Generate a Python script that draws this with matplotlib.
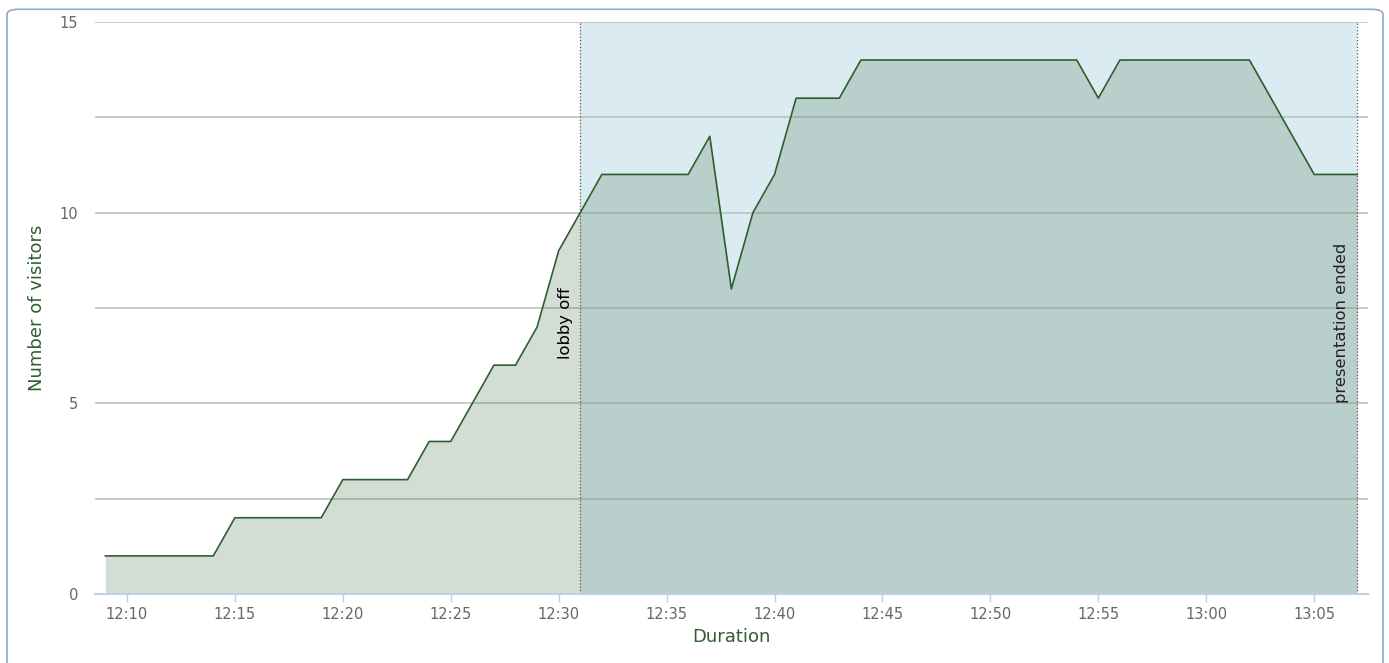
import numpy as np
import matplotlib.pyplot as plt
from matplotlib.patches import FancyBboxPatch
from matplotlib.ticker import FixedLocator, FuncFormatter

# visitor counts, one reading per minute
times = ['12:09', '12:10', '12:11', '12:12', '12:13', '12:14', '12:15', '12:16',
         '12:17', '12:18', '12:19', '12:20', '12:21', '12:22', '12:23', '12:24',
         '12:25', '12:26', '12:27', '12:28', '12:29', '12:30', '12:31', '12:32',
         '12:33', '12:34', '12:35', '12:36', '12:37', '12:38', '12:39', '12:40',
         '12:41', '12:42', '12:43', '12:44', '12:45', '12:46', '12:47', '12:48',
         '12:49', '12:50', '12:51', '12:52', '12:53', '12:54', '12:55', '12:56',
         '12:57', '12:58', '12:59', '13:00', '13:01', '13:02', '13:03', '13:04',
         '13:05', '13:06', '13:07']
visitors = [1, 1, 1, 1, 1, 1, 2, 2, 2, 2, 2, 3, 3, 3, 3, 4,
            4, 5, 6, 6, 7, 9, 10, 11, 11, 11, 11, 11, 12, 8, 10, 11,
            13, 13, 13, 14, 14, 14, 14, 14, 14, 14, 14, 14, 14, 14, 13, 14,
            14, 14, 14, 14, 14, 14, 13, 12, 11, 11, 11]

lobby_off = '12:31'
presentation_end = '13:07'
tick_times = ['12:10', '12:15', '12:20', '12:25', '12:30', '12:35', '12:40',
              '12:45', '12:50', '12:55', '13:00', '13:05']


def to_min(t):
    h, m = t.split(':')
    return (int(h) - 12) * 60 + int(m)


def to_label(v, pos=None):
    v = int(round(v))
    return '%d:%02d' % (12 + v // 60, v % 60)


x = np.array([to_min(t) for t in times])
y = np.array(visitors)

fig = plt.figure(figsize=(13.89, 6.63), dpi=100)
ax = fig.add_axes([0.0684, 0.104, 0.9166, 0.863])

# outer rounded frame
frame = FancyBboxPatch((7 / 1389, -0.05), 1376 / 1389, 1.036, transform=fig.transFigure,
                       boxstyle='round,pad=0,rounding_size=0.008', facecolor='none',
                       edgecolor='#8fa8c8', linewidth=1.2, clip_on=False)
fig.patches.append(frame)

x0, x1 = to_min(lobby_off), to_min(presentation_end)
ax.axvspan(x0, x1, color='#daecf2', zorder=0, linewidth=0)
ax.axvline(x0, color='#555555', linestyle=':', linewidth=0.9, zorder=4)
ax.axvline(x1, color='#555555', linestyle=':', linewidth=0.9, zorder=4)

ax.fill_between(x, 0, y, color='#537b57', alpha=0.25, linewidth=0, zorder=2)
ax.plot(x, y, color='#2d5e2d', linewidth=1.2, zorder=3)

ax.text(x0 - 0.35, 7.1, 'lobby off', rotation=90, ha='right', va='center',
        fontsize=11.8, color='black', zorder=5)
ax.text(x1 - 0.4, 7.1, 'presentation ended', rotation=90, ha='right', va='center',
        fontsize=11.8, color='#222222', zorder=5)

ax.set_xlim(8.52, 67.5)
ax.set_ylim(0, 15)
ax.xaxis.set_major_locator(FixedLocator([to_min(t) for t in tick_times]))
ax.xaxis.set_major_formatter(FuncFormatter(to_label))
ax.yaxis.set_major_locator(FixedLocator([0, 2.5, 5, 7.5, 10, 12.5, 15]))
ax.yaxis.set_major_formatter(FuncFormatter(lambda v, p: '%d' % v if v % 5 == 0 else ''))

ax.grid(axis='y', color='#c0c0c0', linewidth=1.2, zorder=1)
ax.set_axisbelow(True)
for s in ['top', 'right', 'left']:
    ax.spines[s].set_visible(False)
ax.spines['bottom'].set_color('#c0d0e0')
ax.spines['bottom'].set_linewidth(1.5)
ax.spines['bottom'].set_zorder(6)

ax.tick_params(axis='x', colors='#c0d0e0', length=6, width=1, labelcolor='#666666',
               labelsize=10.5, pad=3)
ax.tick_params(axis='y', length=0, labelcolor='#666666', labelsize=10.5, pad=12)

ax.set_xlabel('Duration', color='#2f5f2f', fontsize=13, labelpad=5)
ax.set_ylabel('Number of visitors', color='#2f5f2f', fontsize=13, labelpad=10)

fig.savefig('out.png', dpi=100)
